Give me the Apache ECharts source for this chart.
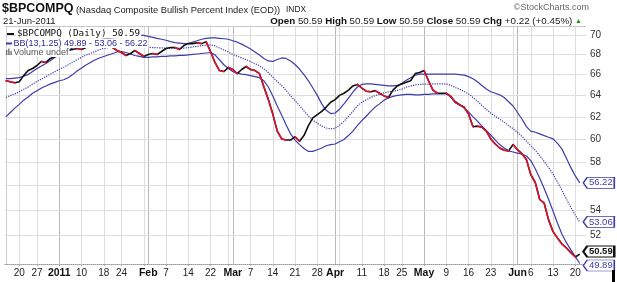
<!DOCTYPE html>
<html><head><meta charset="utf-8">
<script src="https://cdn.jsdelivr.net/npm/echarts@6/dist/echarts.min.js"></script>
<style>html,body{margin:0;padding:0;background:#fff}#c{width:617px;height:282px}</style>
</head><body><div id="c"></div>
<script>
// ---- data ----
const tradingDays = [
  ['2010-12', [15,16,17,20,21,22,23,27,28,29,30,31]],
  ['2011-01', [3,4,5,6,7,10,11,12,13,14,18,19,20,21,24,25,26,27,28,31]],
  ['2011-02', [1,2,3,4,7,8,9,10,11,14,15,16,17,18,22,23,24,25,28]],
  ['2011-03', [1,2,3,4,7,8,9,10,11,14,15,16,17,18,21,22,23,24,25,28,29,30,31]],
  ['2011-04', [1,4,5,6,7,8,11,12,13,14,15,18,19,20,21,25,26,27,28,29]],
  ['2011-05', [2,3,4,5,6,9,10,11,12,13,16,17,18,19,20,23,24,25,26,27,31]],
  ['2011-06', [1,2,3,6,7,8,9,10,13,14,15,16,17,20,21]]
];
const price = [65.4,65.3,65.2,65.3,65.9,66.4,66.6,66.9,67.3,67.2, 67.6,67.8,67.9,68.2,68.4,68.5,68.6,68.5,68.7,68.9,
 68.8,69.0,68.8,68.9,68.7,68.4,68.2,67.9,68.1,68.4, 68.1,67.8,68.0,68.1,68.0,68.3,68.6,68.7,68.7,68.5,
 68.9,69.1,69.1,69.2,69.1,69.3,68.3,67.2,66.4,66.3, 66.7,66.5,66.1,66.5,66.8,66.5,66.4,66.1,64.8,63.6,
 62.25,60.7,60.0,59.9,59.9,60.2,59.8,60.3,61.2,61.9, 62.2,62.5,62.9,63.35,63.6,64.0,64.2,64.5,64.9,65.05,
 64.7,64.4,64.35,64.45,64.2,63.95,63.8,64.5,64.9,65.1, 65.25,65.4,66.1,66.2,66.4,65.4,64.5,64.2,64.2,64.2,
 63.9,63.35,63.1,62.9,62.25,61.1,61.15,61.05,60.7,60.0, 59.55,59.2,59.0,58.95,59.5,59.05,58.7,58.2,56.9,56.25,
 54.85,54.55,53.2,52.3,51.8,51.35,51.05,50.7,50.37,50.59];
const bbUpper = [65.6,65.6,65.65,65.7,65.85,66.0,66.3,66.6,66.85,67.1, 67.4,67.7,67.95,68.2,68.45,68.65,68.85,69.0,69.15,69.3,
 69.4,69.5,69.6,69.65,69.7,69.75,69.8,69.85,69.9,69.95, 69.95,69.95,69.85,69.75,69.65,69.55,69.45,69.3,69.2,69.15,
 69.1,69.1,69.25,69.4,69.55,69.65,69.7,69.7,69.65,69.6, 69.55,69.4,69.25,69.05,68.8,68.55,68.25,67.95,67.6,67.35,
 67.3,67.5,67.65,67.6,67.35,67.0,66.55,66.0,65.4,64.7, 64.0,63.2,62.6,62.3,62.35,62.7,63.2,63.75,64.3,64.8,
 65.05,65.1,65.1,65.05,65.0,64.95,64.9,64.9,64.95,65.15, 65.45,65.7,65.95,66.05,66.05,66.05,66.05,66.05,66.05,66.05,
 66.05,66.05,66.0,65.95,65.8,65.6,65.3,64.95,64.6,64.35, 64.2,64.05,63.8,63.4,63.0,62.4,61.8,61.1,60.7,60.6,
 60.45,60.3,60.15,60.0,59.6,59.1,58.3,57.5,56.8,56.22];
const bbMiddle = [63.8,63.98,64.14,64.34,64.58,64.79,65.08,65.34,65.57,65.8, 66.05,66.29,66.52,66.73,66.97,67.22,67.48,67.72,67.93,68.1,
 68.29,68.49,68.6,68.7,68.8,68.88,68.93,68.92,68.89,68.87, 68.82,68.77,68.74,68.7,68.68,68.67,68.64,68.62,68.62,68.64,
 68.65,68.69,68.77,68.82,68.89,68.95,68.98,68.87,68.66,68.45, 68.24,68.0,67.83,67.65,67.48,67.29,67.09,66.87,66.55,66.19,
 65.74,65.33,64.93,64.47,63.95,63.5,63.04,62.54,62.08,61.7, 61.42,61.15,60.98,60.9,60.95,61.23,61.58,62.03,62.5,63.0,
 63.35,63.58,63.8,63.98,64.1,64.25,64.33,64.4,64.48,64.6, 64.78,64.9,65.0,65.05,65.08,65.08,65.1,65.1,65.1,65.1,
 64.95,64.75,64.58,64.38,64.13,63.8,63.45,63.05,62.68,62.35, 62.05,61.78,61.5,61.18,60.93,60.58,60.23,59.8,59.4,59.0,
 58.53,58.03,57.5,56.95,56.28,55.6,54.88,54.2,53.6,53.06];
const bbLower = [62.0,62.4,62.8,63.15,63.55,63.85,64.2,64.45,64.7,64.9, 65.1,65.25,65.4,65.5,65.7,66.0,66.35,66.65,66.95,67.2,
 67.45,67.65,67.8,67.95,68.1,68.25,68.3,68.2,68.05,67.9, 67.8,67.7,67.7,67.75,67.75,67.8,67.8,67.85,67.85,67.9,
 67.9,67.95,68.0,68.05,68.1,68.15,68.2,67.96,67.47,66.97, 66.6,66.3,66.15,66.05,66.0,65.9,65.8,65.7,65.4,64.8,
 63.95,63.0,62.15,61.25,60.45,59.9,59.5,59.15,58.9,58.9, 59.05,59.2,59.4,59.5,59.55,59.75,59.95,60.3,60.7,61.2,
 61.65,62.05,62.5,62.9,63.2,63.55,63.75,63.9,64.0,64.05, 64.1,64.1,64.05,64.05,64.1,64.1,64.15,64.15,64.15,64.15,
 63.85,63.45,63.15,62.8,62.45,62.0,61.6,61.15,60.75,60.35, 59.9,59.5,59.2,58.95,58.85,58.75,58.65,58.5,58.1,57.4,
 56.6,55.75,54.85,53.9,52.95,52.1,51.45,50.9,50.4,49.89];
const tickDates = ['2010-12-20','2010-12-27','2011-01-03','2011-01-10','2011-01-18','2011-01-24','2011-02-01','2011-02-07','2011-02-14','2011-02-22',
 '2011-03-01','2011-03-07','2011-03-14','2011-03-21','2011-03-28','2011-04-01','2011-04-11','2011-04-18','2011-04-25','2011-05-02',
 '2011-05-09','2011-05-16','2011-05-23','2011-06-01','2011-06-06','2011-06-13','2011-06-20'];
const tickLabels = ['20','27','2011','10','18','24','Feb','7','14','22','Mar','7','14','21','28','Apr','11','18','25','May','9','16','23','Jun','6','13','20'];
const boldLabels = ['2011','Feb','Mar','Apr','May','Jun'];
const weekStarts = ['2010-12-20','2010-12-27','2011-01-03','2011-01-10','2011-01-18','2011-01-24','2011-01-31','2011-02-07','2011-02-14','2011-02-22',
 '2011-02-28','2011-03-07','2011-03-14','2011-03-21','2011-03-28','2011-04-04','2011-04-11','2011-04-18','2011-04-25','2011-05-02',
 '2011-05-09','2011-05-16','2011-05-23','2011-05-31','2011-06-06','2011-06-13','2011-06-20'];
const monthStarts = ['2011-01-03','2011-02-01','2011-03-01','2011-04-01','2011-05-02','2011-06-01'];
const yTicks = [52,54,56,58,60,62,64,66,68,70];

// ---- build ----
const dates = [];
tradingDays.forEach(([m, days]) => days.forEach(d => dates.push(m + '-' + String(d).padStart(2,'0'))));
const idxOf = d => dates.indexOf(d);
const labelIdx = tickDates.map(idxOf);
const labelMap = {};
labelIdx.forEach((i, k) => labelMap[i] = tickLabels[k]);
const weekIdx = weekStarts.map(idxOf);
const monthIdx = monthStarts.map(idxOf);
const pts = arr => arr.map((v, i) => [i, v]);
const last = price.length - 1;

// red (falling) runs
const runs = [];
let cur = null;
for (let i = 1; i < price.length; i++) {
  if (price[i] < price[i-1]) {
    if (!cur) { cur = [[i-1, price[i-1]]]; runs.push(cur); }
    cur.push([i, price[i]]);
  } else cur = null;
}

const BLUE = '#3d3dab';
const FONT = '"Liberation Sans", Arial, sans-serif';
const pointer = 'path://M0,5L4,0L31,0L31,10L4,10Z';
function endBox(arr, color, bold, dy) {
  return {
    symbol: pointer, symbolSize: [31, 11], symbolOffset: [19, dy || 0], symbolKeepAspect: false,
    z: 10, silent: true,
    itemStyle: { color: '#fff', borderColor: color, borderWidth: bold ? 1.5 : 1 },
    label: { show: true, position: 'inside', offset: [2, 0], color: color, fontSize: 9.5,
      fontFamily: FONT, fontWeight: bold ? 'bold' : 'normal', formatter: p => p.value.toFixed(2) },
    data: [{ coord: [last, arr[last]], value: arr[last] }]
  };
}

const chart = echarts.init(document.getElementById('c'), null, { renderer: 'canvas' });
const yMin = 49.85, yMax = 70.93;
chart.setOption({
  animation: false,
  backgroundColor: '#fff',
  grid: { left: 5, right: 31, top: 26, bottom: 18 },
  xAxis: [{
    type: 'value', min: -0.2, max: 130.4, position: 'bottom',
    axisLine: { show: true, lineStyle: { color: '#999', type: 'dotted', width: 1 } },
    axisTick: { show: true, length: 2, customValues: weekIdx, lineStyle: { color: '#aaa' } },
    splitLine: { show: true, lineStyle: { color: '#dedede', width: 1 } },
    axisLabel: {
      customValues: labelIdx, margin: 4, color: '#222', fontSize: 10, fontFamily: FONT,
      formatter: v => { const t = labelMap[Math.round(v)] || ''; return boldLabels.includes(t) ? '{b|' + t + '}' : t; },
      rich: { b: { fontWeight: 'bold', fontSize: 10.5, fontFamily: FONT, color: '#111' } }
    }
  }, {
    type: 'value', min: -0.2, max: 130.4, position: 'top',
    axisLine: { show: true, lineStyle: { color: '#c8c8c8', width: 1 } },
    axisTick: { show: false, customValues: monthIdx },
    axisLabel: { show: false },
    splitLine: { show: true, lineStyle: { color: '#b8b8b8', width: 1 } }
  }],
  yAxis: [{
    type: 'log', min: yMin, max: yMax, position: 'right',
    axisLine: { show: true, lineStyle: { color: '#999', type: 'dotted' } },
    axisTick: { show: false }, axisLabel: { show: false }, splitLine: { show: false }
  }, {
    type: 'log', min: yMin, max: yMax, position: 'left',
    axisLine: { show: true, lineStyle: { color: '#cfcfcf' } },
    axisTick: { show: false }, axisLabel: { show: false }, splitLine: { show: false }
  }],
  series: [
    { type: 'line', data: [], z: 1, silent: true,
      markLine: { silent: true, z: 1, symbol: ['none', 'none'], animation: false,
        lineStyle: { color: '#dedede', type: 'solid', width: 1 },
        label: { show: true, position: 'end', distance: 4, color: '#333', fontSize: 10, fontFamily: FONT,
          formatter: p => String(p.value) },
        emphasis: { disabled: true },
        data: yTicks.map(v => ({ yAxis: v })) } },
    { name: 'upper', type: 'line', data: pts(bbUpper), showSymbol: false, z: 3,
      lineStyle: { color: BLUE, width: 1.2 }, markPoint: endBox(bbUpper, BLUE, false, 0) },
    { name: 'middle', type: 'line', data: pts(bbMiddle), showSymbol: false, z: 3,
      lineStyle: { color: BLUE, width: 1.2, type: 'dotted' }, markPoint: endBox(bbMiddle, BLUE, false, 0) },
    { name: 'lower', type: 'line', data: pts(bbLower), showSymbol: false, z: 3,
      lineStyle: { color: BLUE, width: 1.2 }, markPoint: endBox(bbLower, BLUE, false, 2) },
    { name: 'price', type: 'line', data: pts(price), showSymbol: false, z: 4,
      lineStyle: { color: '#111', width: 1.6 }, markPoint: endBox(price, '#111', true, -2.5) },
    { name: 'down', type: 'lines', coordinateSystem: 'cartesian2d', polyline: true, z: 5, silent: true,
      lineStyle: { color: '#e3102e', width: 1.5, cap: 'round', join: 'round', opacity: 1 },
      data: runs.map(r => ({ coords: r })) }
  ],
  graphic: [
    { type: 'text', x: 2, y: 9, z: 100, style: { text: '$BPCOMPQ', font: 'bold 12.5px ' + FONT, fill: '#111', verticalAlign: 'middle' } },
    { type: 'text', x: 76, y: 10, z: 100, style: { text: '(Nasdaq Composite Bullish Percent Index (EOD))', font: '9.3px ' + FONT, fill: '#222', verticalAlign: 'middle' } },
    { type: 'text', x: 286, y: 10, z: 100, style: { text: 'INDX', font: '8.4px ' + FONT, fill: '#222', verticalAlign: 'middle' } },
    { type: 'text', x: 589, y: 8, z: 100, style: { text: '©StockCharts.com', font: '9px ' + FONT, fill: '#666', align: 'right', verticalAlign: 'middle' } },
    { type: 'text', x: 3, y: 21.5, z: 100, style: { text: '21-Jun-2011', font: '9.5px ' + FONT, fill: '#222', verticalAlign: 'middle' } },
    { type: 'text', x: 582, y: 21.5, z: 100, style: {
      text: '{b|Open} 50.59 {b|High} 50.59 {b|Low} 50.59 {b|Close} 50.59 {b|Chg} +0.22 (+0.45%) {g|▲}',
      font: '9.8px ' + FONT, fill: '#222', align: 'right', verticalAlign: 'middle',
      rich: { b: { fontWeight: 'bold', fontSize: 9.8, fontFamily: FONT, fill: '#111' }, g: { fill: '#1a9a1a', fontSize: 7, fontFamily: FONT } } } },
    // in-plot legend
    { type: 'line', z: 100, shape: { x1: 7, y1: 34, x2: 14, y2: 34 }, style: { stroke: '#111', lineWidth: 2 } },
    { type: 'text', x: 16, y: 34, z: 100, style: { text: '$BPCOMPQ (Daily) 50.59', font: '9.3px "DejaVu Sans Mono", monospace', fill: '#111', verticalAlign: 'middle', backgroundColor: '#fff', padding: [0, 1] } },
    { type: 'line', z: 100, shape: { x1: 6, y1: 43.5, x2: 12, y2: 43.5 }, style: { stroke: BLUE, lineWidth: 2 } },
    { type: 'text', x: 12.5, y: 43.5, z: 100, style: { text: 'BB(13,1.25) 49.89 - 53.06 - 56.22', font: '9px ' + FONT, fill: '#2b2b9a', verticalAlign: 'middle', backgroundColor: '#fff', padding: [0, 1] } },
    { type: 'rect', z: 100, shape: { x: 6, y: 50, width: 1.3, height: 5 }, style: { fill: '#666' } },
    { type: 'rect', z: 100, shape: { x: 8.2, y: 48.5, width: 1.3, height: 6.5 }, style: { fill: '#666' } },
    { type: 'rect', z: 100, shape: { x: 10.4, y: 51, width: 1.3, height: 4 }, style: { fill: '#666' } },
    { type: 'text', x: 12.5, y: 52.5, z: 100, style: { text: 'Volume undef', font: '9px ' + FONT, fill: '#555', verticalAlign: 'middle', backgroundColor: '#fff', padding: [0, 1] } },
    { type: 'rect', z: 100, shape: { x: 612, y: 270, width: 3, height: 12 }, style: { fill: '#000' } }
  ]
});
</script>
</body></html>
